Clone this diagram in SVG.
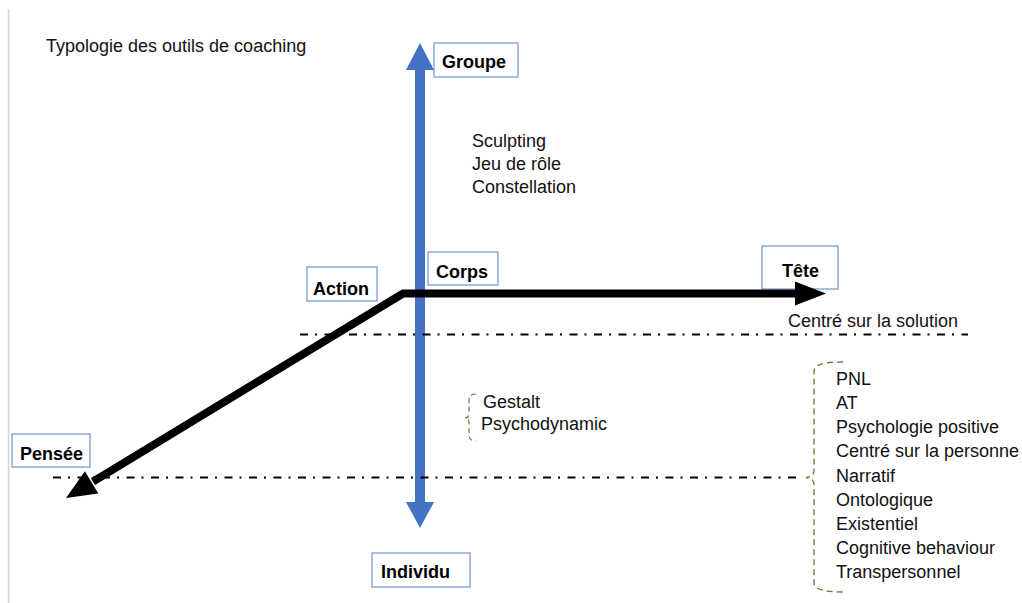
<svg xmlns="http://www.w3.org/2000/svg" width="1022" height="603" viewBox="0 0 1022 603">
  <style>
    .t { font-family: "Liberation Sans", Arial, sans-serif; font-size: 18px; fill: #111; }
    .b { font-family: "Liberation Sans", Arial, sans-serif; font-size: 18px; font-weight: bold; fill: #000; }
    .box { fill: #fff; stroke: #7393d0; stroke-width: 1.2; }
    .dd { fill: none; stroke: #000; stroke-width: 1.8; stroke-dasharray: 8 7 2 7.5; }
    .br { fill: none; stroke: #548235; stroke-width: 1.3; stroke-dasharray: 6 4; }
  </style>
  <rect x="0" y="0" width="1022" height="603" fill="#fff"/>
  <line x1="8.5" y1="9" x2="8.5" y2="603" stroke="#d4d4d4" stroke-width="1.5"/>

  <text class="t" x="46" y="52">Typologie des outils de coaching</text>

  <g id="groupe"><rect class="box" x="434" y="43" width="84" height="34"/><text class="b" x="442" y="68">Groupe</text></g>
  <g id="corps"><rect class="box" x="428" y="252" width="70" height="33"/><text class="b" x="436" y="278">Corps</text></g>
  <g id="action"><rect class="box" x="307" y="267" width="70" height="34"/><text class="b" x="313" y="295">Action</text></g>
  <g id="tete"><rect class="box" x="762" y="246" width="76" height="43"/><text class="b" x="782" y="277">Tête</text></g>
  <g id="pensee"><rect class="box" x="12" y="434" width="78" height="33"/><text class="b" x="20" y="460">Pensée</text></g>
  <g id="individu"><rect class="box" x="372" y="553" width="98" height="34"/><text class="b" x="381" y="578">Individu</text></g>

  <g id="groupe-tools">
    <text class="t" x="472" y="147">Sculpting</text>
    <text class="t" x="472" y="170">Jeu de rôle</text>
    <text class="t" x="472" y="193">Constellation</text>
  </g>
  <g id="individu-tools">
    <path class="br" style="stroke-width:1.2;stroke-dasharray:5 3.5" d="M476 394 Q469 394 469 400 V413 Q469 418 465 418 Q469 418 469 423 V435 Q469 441 476 441"/>
    <text class="t" x="483" y="408">Gestalt</text>
    <text class="t" x="481" y="430">Psychodynamic</text>
  </g>
  <g id="solution"><text class="t" x="788" y="327">Centré sur la solution</text></g>
  <g id="tete-tools">
    <path class="br" d="M843 362 C824 362 814 364 814 372 V470 Q814 477 806 477.5 Q814 478 814 485 V583 Q814 592 843 592"/>
    <text class="t" x="836" y="385">PNL</text>
    <text class="t" x="836" y="409">AT</text>
    <text class="t" x="836" y="433">Psychologie positive</text>
    <text class="t" x="836" y="457">Centré sur la personne</text>
    <text class="t" x="836" y="481.5">Narratif</text>
    <text class="t" x="836" y="505.5">Ontologique</text>
    <text class="t" x="836" y="529.5">Existentiel</text>
    <text class="t" x="836" y="553.5">Cognitive behaviour</text>
    <text class="t" x="836" y="578">Transpersonnel</text>
  </g>

  <g id="connectors">
    <rect x="415" y="68" width="10" height="436" fill="#4472c4"/>
    <polygon points="406,70 420,43 434,70" fill="#4472c4"/>
    <polygon points="406,502 420,528 434,502" fill="#4472c4"/>
    <path d="M797 293.5 L403 293.5 L93 481.6" fill="none" stroke="#000" stroke-width="8" stroke-linejoin="miter"/>
    <polygon points="795,281.5 826,293.5 795,305.5" fill="#000"/>
    <polygon points="98.3,493.5 66,498 84.9,471.3" fill="#000"/>
    <path class="dd" d="M300 334.5 H968"/>
    <path class="dd" d="M53 477.5 H800"/>
  </g>
</svg>
